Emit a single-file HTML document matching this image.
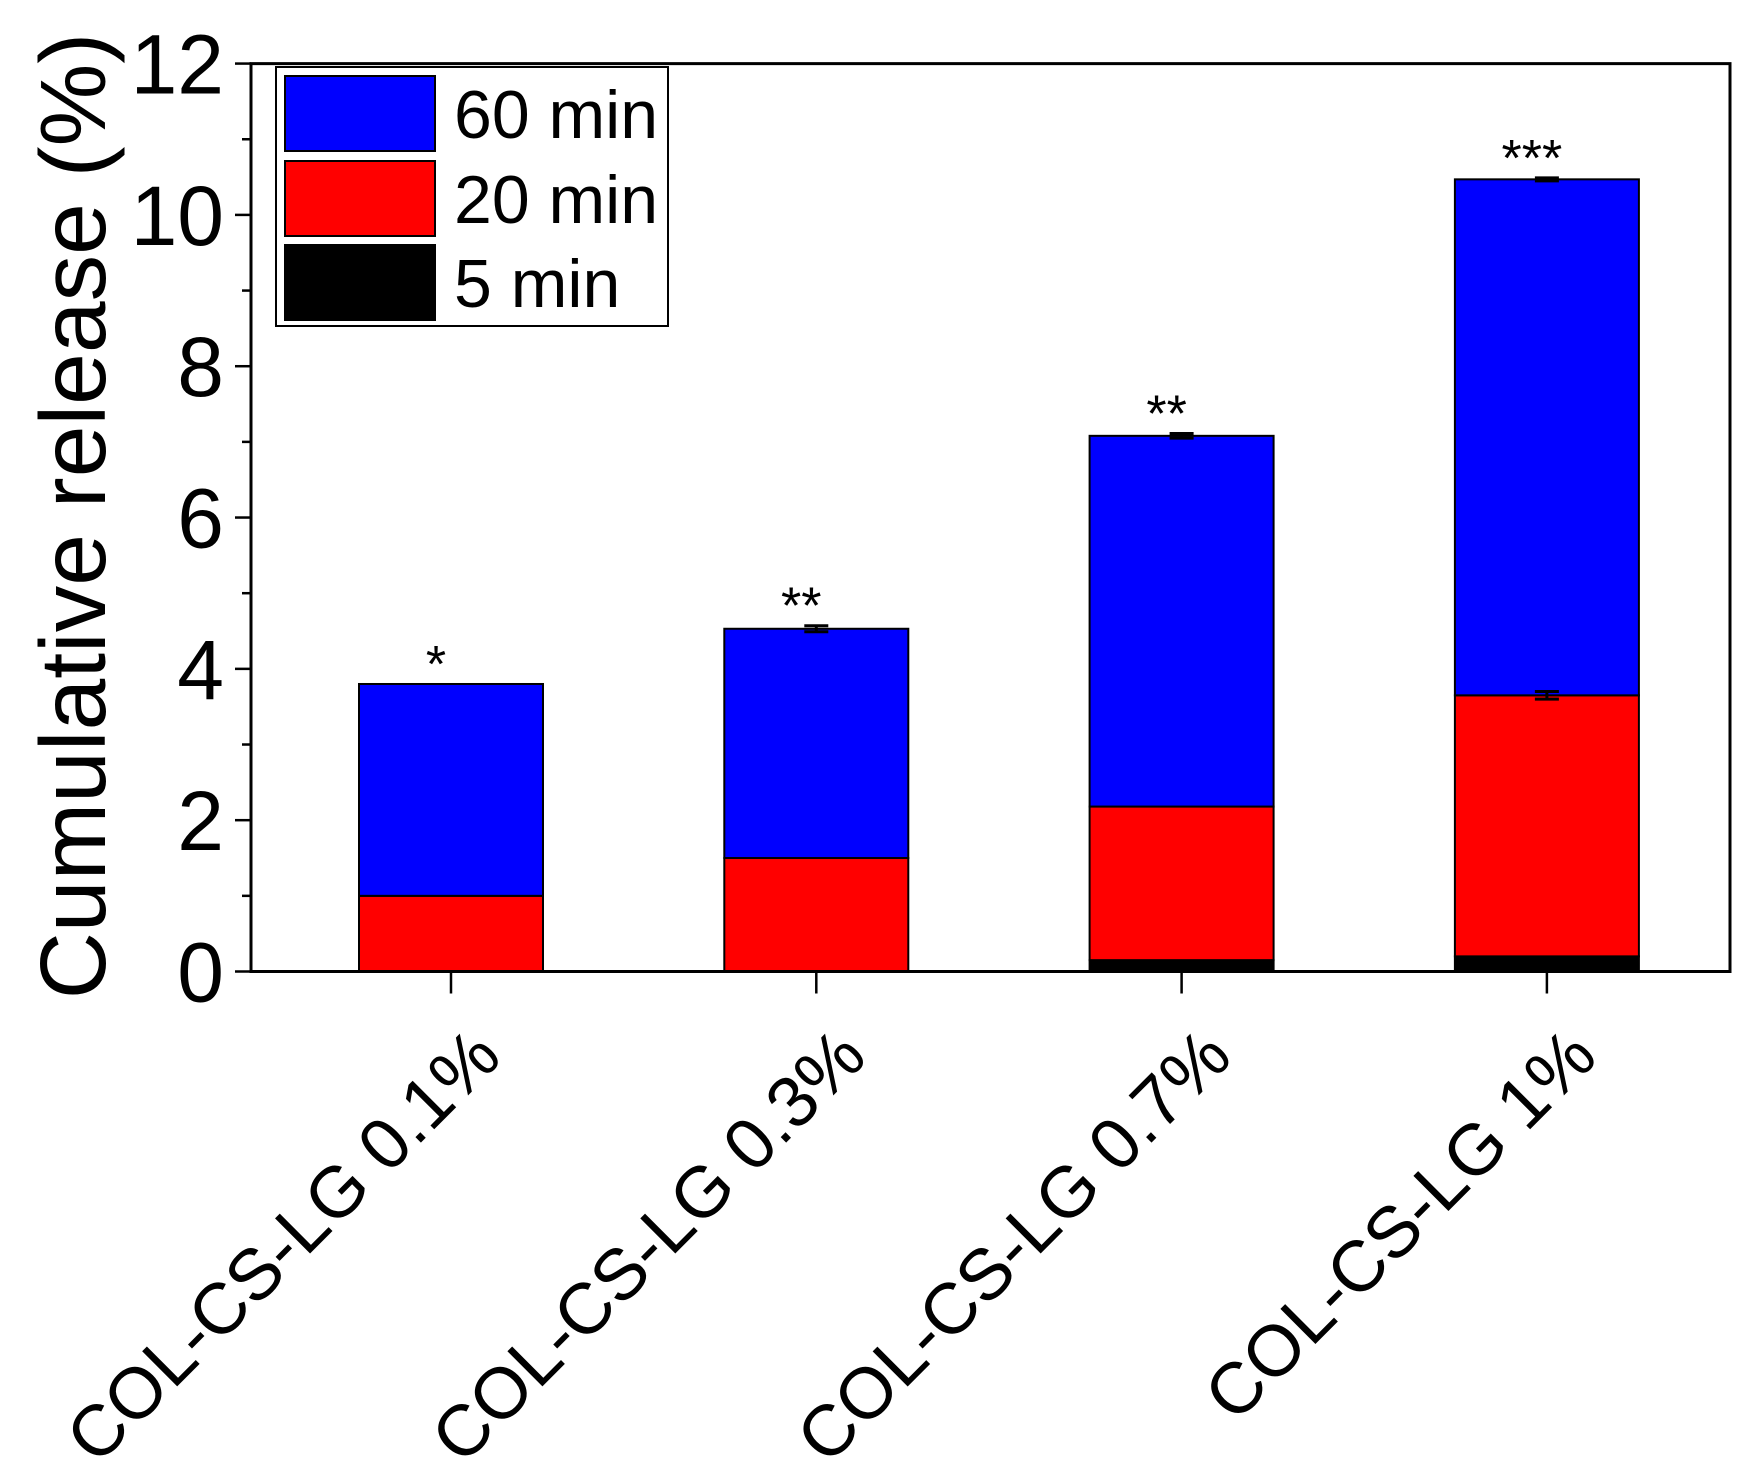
<!DOCTYPE html>
<html><head><meta charset="utf-8"><style>
html,body{margin:0;padding:0;background:#fff;}
svg{display:block;font-family:"Liberation Sans",Arial,sans-serif;}
</style></head><body>
<svg id="chart" width="1751" height="1482" viewBox="0 0 1751 1482">
<g id="plot"></g>
</svg>
<script>
const categories = ["COL-CS-LG 0.1%","COL-CS-LG 0.3%","COL-CS-LG 0.7%","COL-CS-LG 1%"];
const min5 = [0.0, 0.0, 0.15, 0.2];
const min20 = [1.0, 1.5, 2.18, 3.65];
const min60 = [3.8, 4.53, 7.08, 10.47];
const err60 = [0.0, 0.04, 0.03, 0.02];
const err20 = [0.0, 0.0, 0.0, 0.05];
const stars = ["*","**","**","***"];
const yTicks = [0,2,4,6,8,10,12];

const NS="http://www.w3.org/2000/svg";
const svg=document.getElementById('plot');
const L=251,R=1730,Y0=971.5,PX=75.66;
const y=v=>Y0-v*PX;
const xc=i=>451+i*365.3;
const BW=184;
function mk(t,a,p){const e=document.createElementNS(NS,t);for(const k in a)e.setAttribute(k,a[k]);(p||svg).appendChild(e);return e;}

for(let i=0;i<categories.length;i++){
  const segs=[[0,min5[i],'#000'],[min5[i],min20[i],'#ff0000'],[min20[i],min60[i],'#0000ff']];
  const names=['bar-5min-','bar-20min-','bar-60min-'];
  segs.forEach((s,k)=>{
    if(s[1]-s[0]<=0)return;
    const r=mk('rect',{x:xc(i)-BW/2,y:y(s[1]),width:BW,height:y(s[0])-y(s[1]),fill:s[2],stroke:'#000','stroke-width':2});
    
    
  });
  [[min60[i],err60[i]],[min20[i],err20[i]]].forEach(([v,e])=>{
    if(e<=0)return;
    const g=mk('path',{d:`M${xc(i)-12},${y(v+e)}H${xc(i)+12}M${xc(i)},${y(v+e)}V${y(v-e)}M${xc(i)-12},${y(v-e)}H${xc(i)+12}`,stroke:'#000','stroke-width':3,fill:'none'});
    
    
  });
  const st=mk('text',{x:xc(i)-15,y:y(min60[i]+err60[i])-2,'font-size':52,'text-anchor':'middle'});
  st.textContent=stars[i];
  
  
  const tk=mk('line',{x1:xc(i),x2:xc(i),y1:Y0,y2:Y0+22,stroke:'#000','stroke-width':2.5});
  
  
  const lx=xc(i)+53,ly=Y0+88;
  const lb=mk('text',{x:lx,y:ly,'font-size':72,'text-anchor':'end',transform:`rotate(-45 ${lx} ${ly})`});
  lb.textContent=categories[i];
  
  
}
const fr=mk('path',{d:`M${L},${y(12)}H${R}V${Y0}H${L}Z`,fill:'none',stroke:'#000','stroke-width':3});


yTicks.forEach(v=>{
  const t=mk('line',{x1:L-16,x2:L,y1:y(v),y2:y(v),stroke:'#000','stroke-width':2.5});
  
  
  const tx=mk('text',{x:224,y:y(v)+30,'font-size':84,'text-anchor':'end'});
  tx.textContent=v;
  
  
  if(v<12){
    const m=mk('line',{x1:L-9,x2:L,y1:y(v+1),y2:y(v+1),stroke:'#000','stroke-width':2.5});
    
    
  }
});
const yt=mk('text',{x:0,y:0,'font-size':93,'text-anchor':'middle',transform:'translate(105,516) rotate(-90)'});
yt.textContent='Cumulative release (%)';


const lg=mk('g',{});


mk('rect',{x:276,y:67,width:392,height:259,fill:'#fff',stroke:'#000','stroke-width':2},lg);
const legItems=[['60 min','#0000ff',76],['20 min','#ff0000',161],['5 min','#000',245]];
legItems.forEach(([t,c,yy])=>{
  const s=mk('rect',{x:285,y:yy,width:150,height:75,fill:c,stroke:'#000','stroke-width':2},lg);
  
  
  const tx=mk('text',{x:454,y:yy+62,'font-size':68},lg);
  tx.textContent=t;
  
  
});
</script>
</body></html>
